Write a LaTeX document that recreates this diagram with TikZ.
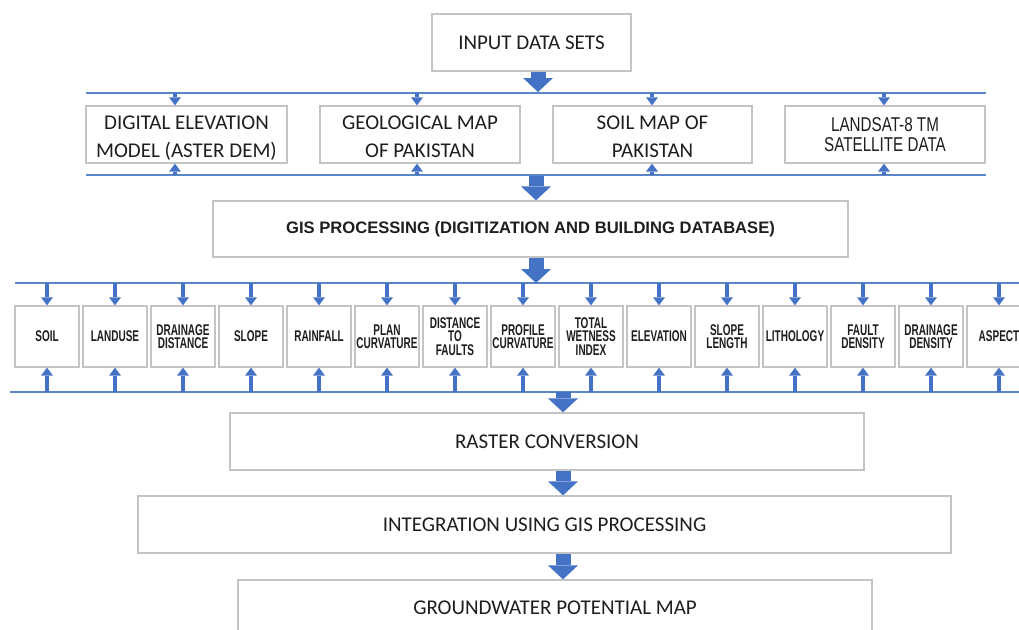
\documentclass[tikz,border=0pt]{standalone}
\usepackage{fontspec}
\setmainfont{Carlito}
\newfontfamily\rowfont[FakeStretch=0.645]{Liberation Sans}
\newfontfamily\landfont[FakeStretch=0.76]{Liberation Sans}
\newfontfamily\gisfont{Liberation Sans}
\usetikzlibrary{arrows.meta}
\definecolor{arrblue}{HTML}{4472C4}
\definecolor{lineblue}{HTML}{5B86C5}
\definecolor{boxgray}{HTML}{C4C4C4}
\definecolor{txt}{HTML}{1E1E1E}
\newcommand{\twoline}[2]{\raisebox{-3pt}[\height][\depth]{\begin{tabular}{@{}c@{}}#1\\#2\end{tabular}}}
\tikzset{
  box/.style={draw=boxgray, line width=1.3pt, fill=white, inner sep=0pt, align=center, text=txt},
  calbox/.style={box, font=\fontsize{21}{28}\selectfont},
  landbox/.style={box, font=\landfont\fontsize{20}{20}\selectfont},
  gisbox/.style={box, font=\gisfont\bfseries\fontsize{16.6}{19}\selectfont},
  rowbox/.style={box, minimum width=64pt, minimum height=61pt, font=\rowfont\bfseries\fontsize{15.5}{13.5}\selectfont},
  bigarrow/.style={draw=arrblue, line width=15pt, -{Triangle[width=30pt,length=14pt,line width=0pt]}},
  smallarrow/.style={draw=arrblue, line width=4.5pt, -{Triangle[width=12pt,length=8pt,line width=0pt]}},
  busline/.style={draw=lineblue, line width=1.5pt},
}
\begin{document}
\begin{tikzpicture}[x=1pt,y=-1pt]
\clip (0,0) rectangle (1019,629);
\fill[white] (0,0) rectangle (1019,629);

% top
\node[calbox, minimum width=199pt, minimum height=57pt] (inp) at (531.5,42.5) {INPUT DATA SETS};

% row 1 buses
\coordinate (b1l) at (86,93);
\coordinate (b1r) at (986,93);
\coordinate (b2l) at (86,175);
\coordinate (b2r) at (986,175);
\draw[busline] (b1l) -- (b1r);
\draw[busline] (b2l) -- (b2r);

% row 1 boxes
\node[calbox, minimum width=201pt, minimum height=57pt] (dem) at (186.5,134.5) {\twoline{DIGITAL ELEVATION}{MODEL (ASTER DEM)}};
\node[calbox, minimum width=200pt, minimum height=57pt] (geo) at (420,134.5) {\twoline{GEOLOGICAL MAP}{OF PAKISTAN}};
\node[calbox, minimum width=199pt, minimum height=57pt] (soilmap) at (652.5,134.5) {\twoline{SOIL MAP OF}{PAKISTAN}};
\node[landbox, minimum width=200pt, minimum height=57pt] (land) at (885,134.5) {LANDSAT-8 TM\\SATELLITE DATA};

\foreach \n/\x in {dem/175, geo/417, soilmap/652, land/884}{
  \coordinate (t\n) at (\x,93);
  \coordinate (u\n) at (\x,175);
  \draw[smallarrow] (t\n) -- (t\n |- \n.north);
  \draw[smallarrow] (u\n) -- (u\n |- \n.south);
}

\coordinate (a1) at (538,92);
\draw[bigarrow] (inp.south -| a1) -- (a1);

% GIS box
\node[gisbox, minimum width=635pt, minimum height=56pt] (gis) at (530.5,229) {GIS PROCESSING (DIGITIZATION AND BUILDING DATABASE)};
\coordinate (a2) at (536,176);
\draw[bigarrow] (a2) -- (a2 |- gis.north);

% row 2 buses
\coordinate (c1l) at (15,283);
\coordinate (c1r) at (1019,283);
\coordinate (c2l) at (10,392);
\coordinate (c2r) at (1019,392);
\draw[busline] (c1l) -- (c1r);
\draw[busline] (c2l) -- (c2r);

\coordinate (a3) at (536,283);
\draw[bigarrow] (gis.south -| a3) -- (a3);

\foreach \lab [count=\i from 0] in {SOIL, LANDUSE, DRAINAGE\\DISTANCE, SLOPE, RAINFALL, PLAN\\CURVATURE, DISTANCE\\TO\\FAULTS, PROFILE\\CURVATURE, TOTAL\\WETNESS\\INDEX, ELEVATION, SLOPE\\LENGTH, LITHOLOGY, FAULT\\DENSITY, DRAINAGE\\DENSITY, ASPECT}{
  \node[rowbox] (r\i) at ({47+68*\i},336.5) {\lab};
  \coordinate (rt\i) at ({47+68*\i},283);
  \coordinate (rb\i) at ({47+68*\i},392);
  \draw[smallarrow] (rt\i) -- (rt\i |- r\i.north);
  \draw[smallarrow] (rb\i) -- (rb\i |- r\i.south);
}

% lower boxes
\node[calbox, minimum width=634pt, minimum height=57pt] (raster) at (547,441.5) {RASTER CONVERSION};
\node[calbox, minimum width=813pt, minimum height=57pt] (integ) at (544.5,524.5) {INTEGRATION USING GIS PROCESSING};
\node[calbox, minimum width=634pt, minimum height=56pt] (ground) at (555,608) {GROUNDWATER POTENTIAL MAP};

\coordinate (a4) at (563,392);
\draw[bigarrow] (a4) -- (a4 |- raster.north);
\draw[bigarrow] (raster.south -| a4) -- (a4 |- integ.north);
\draw[bigarrow] (integ.south -| a4) -- (a4 |- ground.north);
\end{tikzpicture}
\end{document}
